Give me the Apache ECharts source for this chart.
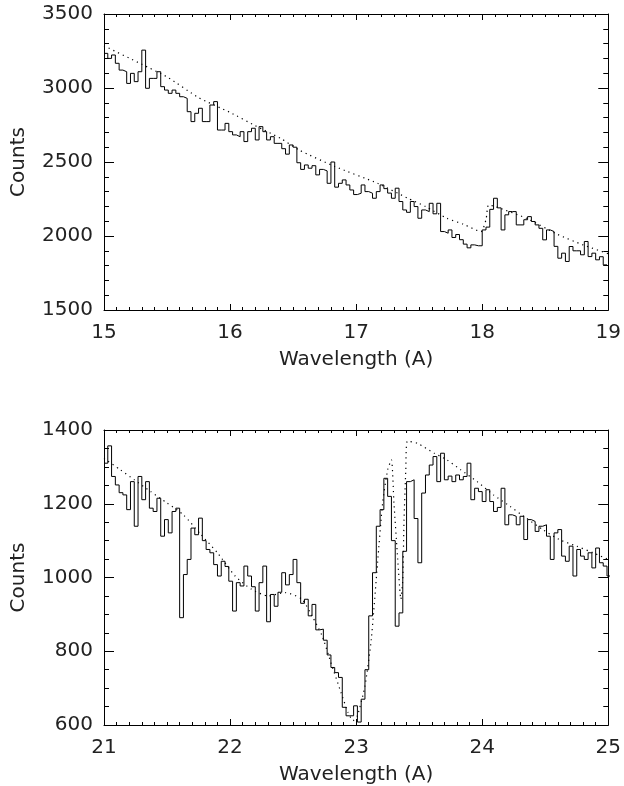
<!DOCTYPE html>
<html>
<head>
<meta charset="utf-8">
<script src="https://cdn.jsdelivr.net/npm/echarts@6/dist/echarts.min.js"></script>
<style>
html,body{margin:0;padding:0;background:#fff;}
#chart{width:624px;height:786px;}
</style>
</head>
<body>
<div id="chart"></div>
<script>
// ---------- DATA ----------
const binWidth = 0.03;
const topWaveStart = 15.0;
const topCounts = [
3234,3200,3223,3167,3121,3110,3031,3099,3043,3110,
3256,2998,3065,3065,3110,3009,2986,2964,2986,2964,
2941,2930,2840,2773,2829,2863,2773,2773,2885,2908,
2716,2716,2761,2705,2683,2671,2705,2638,2705,2728,
2649,2739,2705,2649,2671,2626,2626,2590,2553,2615,
2600,2495,2450,2480,2458,2475,2413,2450,2440,2356,
2500,2330,2356,2379,2345,2311,2280,2289,2345,2300,
2289,2255,2300,2345,2320,2290,2255,2323,2233,2176,
2160,2233,2199,2120,2176,2165,2221,2150,2221,2030,
2019,2041,1990,2010,1975,1945,1920,1940,1934,1934,
2041,2060,2180,2255,2190,2041,2143,2165,2165,2075,
2075,2110,2131,2098,2075,2052,1974,2041,2030,1930,
1850,1884,1828,1929,1900,1900,1873,1963,1861,1884,
1839,1860,1805
];
const topModelWave   = [15.0,15.3,15.5,15.75,16.0,16.2,16.4,16.55,16.83,17.17,17.41,17.55,17.72,17.85,17.99,18.03,18.05,18.1,18.35,18.6,18.8,19.0];
const topModelCounts = [3285,3160,3075,2935,2835,2745,2660,2580,2470,2356,2255,2199,2120,2080,2030,2110,2210,2200,2120,2010,1940,1880];

const botWaveStart = 21.0;
const botCounts = [
1310,1357,1274,1251,1230,1224,1184,1260,1139,1274,
1211,1260,1188,1179,1215,1112,1157,1121,1179,1188,
891,1008,1049,1134,1116,1161,1100,1076,1067,1035,
1004,1044,1030,990,909,986,977,1031,1004,975,
909,986,1031,880,954,922,960,1013,980,1008,
1049,986,930,941,896,927,858,860,830,790,
756,742,729,648,625,625,652,608,670,750,
896,1013,1139,1184,1269,1220,1100,868,904,1071,
1260,1265,1160,1040,1229,1278,1305,1328,1260,1337,
1265,1275,1260,1278,1265,1274,1310,1211,1242,1233,
1206,1238,1206,1179,1190,1242,1143,1170,1166,1143,
1166,1103,1157,1152,1125,1139,1143,1112,1049,1121,
1130,1058,1044,1085,1004,1076,1058,1049,1067,1026,
1080,1040,1031,1004
];
const botModelWave   = [21.0,21.13,21.24,21.37,21.5,21.63,21.77,21.9,22.04,22.17,22.3,22.44,22.57,22.65,22.73,22.8,22.88,22.936,22.975,23.01,23.07,23.12,23.17,23.21,23.25,23.28,23.3,23.33,23.355,23.37,23.38,23.394,23.407,23.486,23.62,23.72,23.83,23.96,24.09,24.22,24.35,24.48,24.61,24.75,24.88,25.0];
const botModelCounts = [1323,1292,1265,1233,1202,1170,1116,1067,1004,968,950,959,941,896,842,769,688,634,612,625,706,832,1040,1202,1292,1319,1202,1049,941,995,1157,1292,1370,1364,1337,1319,1292,1260,1224,1193,1161,1130,1103,1085,1067,1049];

const topXTicks = {min:15, max:19, interval:1};
const topYTicks = {min:1500, max:3500, interval:500};
const botXTicks = {min:21, max:25, interval:1};
const botYTicks = {min:600, max:1400, interval:200};

// ---------- BUILD ----------
function stepPoints(start, w, vals){
  const pts = [];
  vals.forEach((v,i)=>{ pts.push([start+i*w, v]); pts.push([start+(i+1)*w, v]); });
  return pts;
}
function zipPts(xs, ys){ return xs.map((x,i)=>[x, ys[i]]); }

const FONT = 'DejaVu Sans';
const black = '#000';
const lineStyle = {color: black, width: 1};
const labelStyle = {fontFamily: FONT, fontSize: 20, color: '#222', formatter: v => String(v)};

function xAxes(grid, t){
  return [
    {gridIndex:grid, type:'value', position:'bottom', min:t.min, max:t.max, interval:t.interval,
     name:'Wavelength (A)', nameLocation:'middle', nameGap:40,
     nameTextStyle:{fontFamily:FONT, fontSize:20, color:'#222'},
     axisLine:{show:true, onZero:false, lineStyle},
     axisTick:{show:true, inside:true, length:6, lineStyle},
     minorTick:{show:true, splitNumber:10, length:3, lineStyle},
     splitLine:{show:false},
     axisLabel:Object.assign({margin:13}, labelStyle)},
    {gridIndex:grid, type:'value', position:'top', min:t.min, max:t.max, interval:t.interval,
     axisLine:{show:true, onZero:false, lineStyle},
     axisTick:{show:true, inside:true, length:6, lineStyle},
     minorTick:{show:true, splitNumber:10, length:3, lineStyle},
     splitLine:{show:false}, axisLabel:{show:false}}
  ];
}
function yAxes(grid, t, minorSplit){
  return [
    {gridIndex:grid, type:'value', position:'left', min:t.min, max:t.max, interval:t.interval,
     name:'Counts', nameLocation:'middle', nameGap:75,
     nameTextStyle:{fontFamily:FONT, fontSize:20, color:'#222'},
     axisLine:{show:true, onZero:false, lineStyle},
     axisTick:{show:true, inside:true, length:10, lineStyle},
     minorTick:{show:true, splitNumber:minorSplit, length:5, lineStyle},
     splitLine:{show:false},
     axisLabel:Object.assign({margin:11}, labelStyle)},
    {gridIndex:grid, type:'value', position:'right', min:t.min, max:t.max, interval:t.interval,
     axisLine:{show:true, onZero:false, lineStyle},
     axisTick:{show:true, inside:true, length:10, lineStyle},
     minorTick:{show:true, splitNumber:minorSplit, length:5, lineStyle},
     splitLine:{show:false}, axisLabel:{show:false}}
  ];
}

const chart = echarts.init(document.getElementById('chart'), null, {renderer:'canvas'});
chart.setOption({
  animation:false,
  backgroundColor:'#fff',
  grid:[
    {left:104, top:14, width:508, height:296},
    {left:104, top:430, width:508, height:296}
  ],
  xAxis:[...xAxes(0, topXTicks), ...xAxes(1, botXTicks)],
  yAxis:[...yAxes(0, topYTicks, 5), ...yAxes(1, botYTicks, 4)],
  series:[
    {type:'line', xAxisIndex:0, yAxisIndex:0, data:stepPoints(topWaveStart, binWidth, topCounts),
     showSymbol:false, clip:true, lineStyle:{color:black, width:1}},
    {type:'line', xAxisIndex:0, yAxisIndex:0, data:zipPts(topModelWave, topModelCounts),
     showSymbol:false, clip:true, smooth:0.2, lineStyle:{color:black, width:1.2, type:[1.2,4]}},
    {type:'line', xAxisIndex:2, yAxisIndex:2, data:stepPoints(botWaveStart, binWidth, botCounts),
     showSymbol:false, clip:true, lineStyle:{color:black, width:1}},
    {type:'line', xAxisIndex:2, yAxisIndex:2, data:zipPts(botModelWave, botModelCounts),
     showSymbol:false, clip:true, smooth:0.2, lineStyle:{color:black, width:1.2, type:[1.2,4]}}
  ]
});
</script>
</body>
</html>
